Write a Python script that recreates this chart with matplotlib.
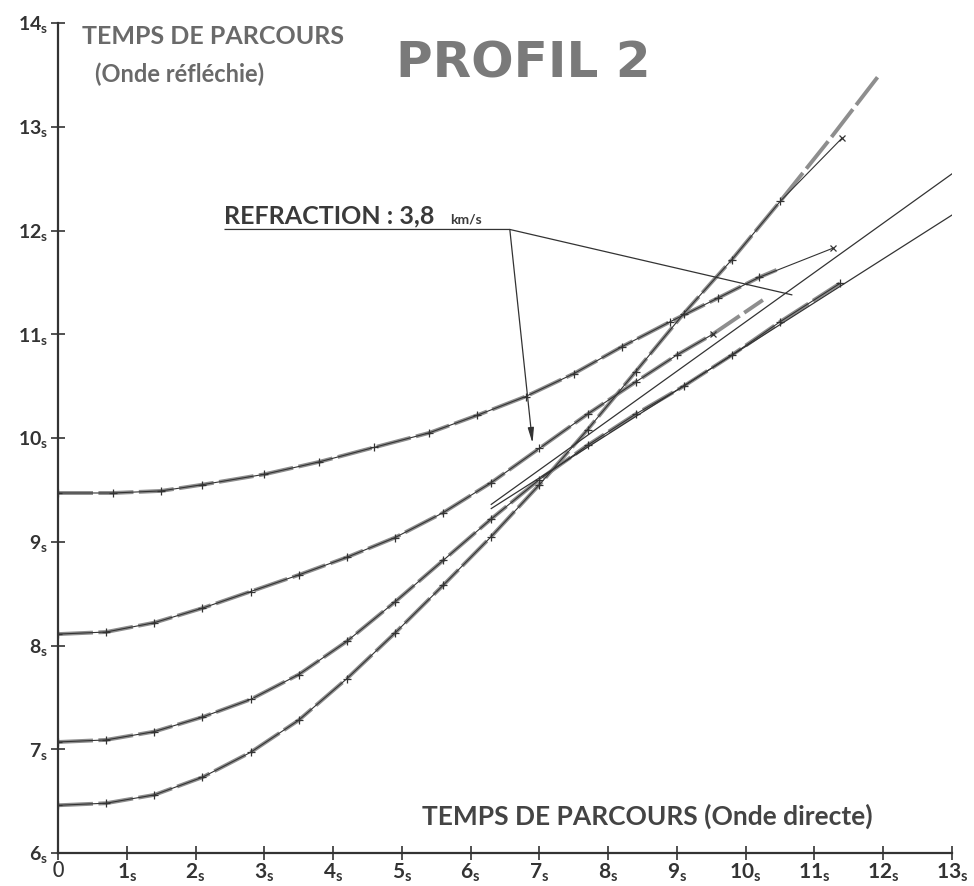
import matplotlib.pyplot as plt

plt.rcParams['mathtext.fontset'] = 'custom'
plt.rcParams['mathtext.bf'] = 'Lato:bold'
plt.rcParams['mathtext.rm'] = 'Lato'

# temps de parcours onde directe (x) / onde réfléchie (y), en secondes
a_x = [0, 0.8, 1.5, 2.1, 3.0, 3.8, 4.6, 5.4, 6.1, 6.8, 7.5, 8.2, 8.9, 9.6, 10.2, 11.27]
a_y = [9.47, 9.47, 9.49, 9.55, 9.65, 9.77, 9.91, 10.05, 10.22, 10.4, 10.62, 10.88, 11.12, 11.35, 11.55, 11.83]
a_dash_end = [10.45, 11.62]

b_x = [0, 0.7, 1.4, 2.1, 2.8, 3.5, 4.2, 4.9, 5.6, 6.3, 7.0, 7.7, 8.4, 9.0, 9.52]
b_y = [8.11, 8.13, 8.22, 8.36, 8.52, 8.68, 8.85, 9.04, 9.28, 9.57, 9.9, 10.23, 10.54, 10.8, 11.0]
b_dash_end = [10.25, 11.33]

c_x = [0, 0.7, 1.4, 2.1, 2.8, 3.5, 4.2, 4.9, 5.6, 6.3, 7.0, 7.7, 8.4, 9.1, 9.8, 10.5, 11.37]
c_y = [7.07, 7.09, 7.17, 7.31, 7.48, 7.72, 8.04, 8.42, 8.82, 9.22, 9.6, 9.93, 10.23, 10.5, 10.8, 11.12, 11.49]

d_x = [0, 0.7, 1.4, 2.1, 2.8, 3.5, 4.2, 4.9, 5.6, 6.3, 7.0, 7.7, 8.4, 9.1, 9.8, 10.5, 11.4]
d_y = [6.46, 6.48, 6.56, 6.73, 6.97, 7.28, 7.68, 8.12, 8.58, 9.05, 9.55, 10.08, 10.64, 11.2, 11.72, 12.28, 12.89]
d_dash_tail_x = [11.2, 11.92]
d_dash_tail_y = [12.86, 13.48]

# droites de réfraction
refr1_x = [6.3, 13.05]
refr1_y = [9.36, 12.57]
refr2_x = [6.3, 13.05]
refr2_y = [9.32, 12.17]

# renvois de la légende REFRACTION
refr_line_x = [2.43, 6.57, 10.67]
refr_line_y = [12.01, 12.01, 11.38]
refr_arrow_tip = [6.9, 9.95]

x_ticks = list(range(14))
x_labels = ['0'] + [r'$\mathbf{%d}_{\mathbf{s}}$' % v for v in range(1, 14)]
y_ticks = list(range(6, 15))
y_labels = [r'$\mathbf{%d}_{\mathbf{s}}$' % v for v in range(6, 15)]

DARK = '#333333'
GREY = '#8e8e8e'

fig = plt.figure(figsize=(9.74, 8.86), dpi=100)
ax = fig.add_axes([58 / 974, 33 / 886, 894 / 974, 830 / 886])
ax.set_xlim(0, 13)
ax.set_ylim(6, 14)

for s in ['top', 'right']:
    ax.spines[s].set_visible(False)
for s in ['left', 'bottom']:
    ax.spines[s].set_color(DARK)
    ax.spines[s].set_linewidth(1.6)

ax.set_xticks(x_ticks)
ax.set_xticklabels(x_labels, fontsize=15, color=DARK)
ax.set_yticks(y_ticks)
ax.set_yticklabels(y_labels, fontsize=14, color=DARK)
ax.tick_params(axis='both', direction='inout', length=10, width=1.2, color=DARK)
ax.tick_params(axis='x', pad=1)
ax.tick_params(axis='y', pad=2)


def courbe(xs, ys, dxs, dys, end_x=True):
    # trait gris tireté (pointé) puis trait fin avec repères
    ax.plot(dxs, dys, color=GREY, lw=2.8, dashes=(9, 1.4), solid_capstyle='butt', zorder=2)
    marks = list(range(len(xs) - 1)) if end_x else None
    ax.plot(xs, ys, color=DARK, lw=0.8, marker='+', ms=6, mew=0.9, markevery=marks, zorder=3)
    if end_x:
        ax.plot(xs[-1], ys[-1], marker='x', ms=5, mew=0.9, color=DARK, zorder=3)


courbe(a_x, a_y, a_x[:-1] + [a_dash_end[0]], a_y[:-1] + [a_dash_end[1]])
courbe(b_x, b_y, b_x + [b_dash_end[0]], b_y + [b_dash_end[1]])
courbe(c_x, c_y, c_x, c_y, end_x=False)
courbe(d_x, d_y, d_x[:-1] + d_dash_tail_x, d_y[:-1] + d_dash_tail_y)

ax.plot(refr1_x, refr1_y, color=DARK, lw=0.9, zorder=3)
ax.plot(refr2_x, refr2_y, color=DARK, lw=0.9, zorder=3)

ax.plot(refr_line_x, refr_line_y, color=DARK, lw=0.9, zorder=3)
ax.annotate('', xy=refr_arrow_tip, xytext=(refr_line_x[1], refr_line_y[1]),
            arrowprops=dict(arrowstyle='-|>,head_width=0.18,head_length=0.9',
                            color=DARK, lw=0.9, shrinkA=0, shrinkB=0))
ax.text(2.42, 12.07, 'REFRACTION : 3,8', fontsize=18, fontweight='bold',
        family='Lato', color='#3a3a3a', va='baseline')
ax.text(5.7, 12.07, 'km/s', fontsize=10, fontweight='bold',
        family='Lato', color='#3a3a3a', va='baseline')

ax.text(0.35, 13.98, 'TEMPS DE PARCOURS', fontsize=18, fontweight='bold',
        family='Lato', color='#6a6a6a', va='top')
ax.text(0.54, 13.62, '(Onde réfléchie)', fontsize=17, fontweight='bold',
        family='Lato', color='#6a6a6a', va='top')
ax.text(8.62, 13.47, 'PROFIL 2', fontsize=36, fontweight='bold',
        color='#7a7a7a', ha='right', va='baseline')
ax.text(8.57, 6.27, 'TEMPS DE PARCOURS (Onde directe)', fontsize=19, fontweight='bold',
        family='Lato', color='#444444', ha='center', va='baseline')

fig.savefig('out.png', dpi=100)
